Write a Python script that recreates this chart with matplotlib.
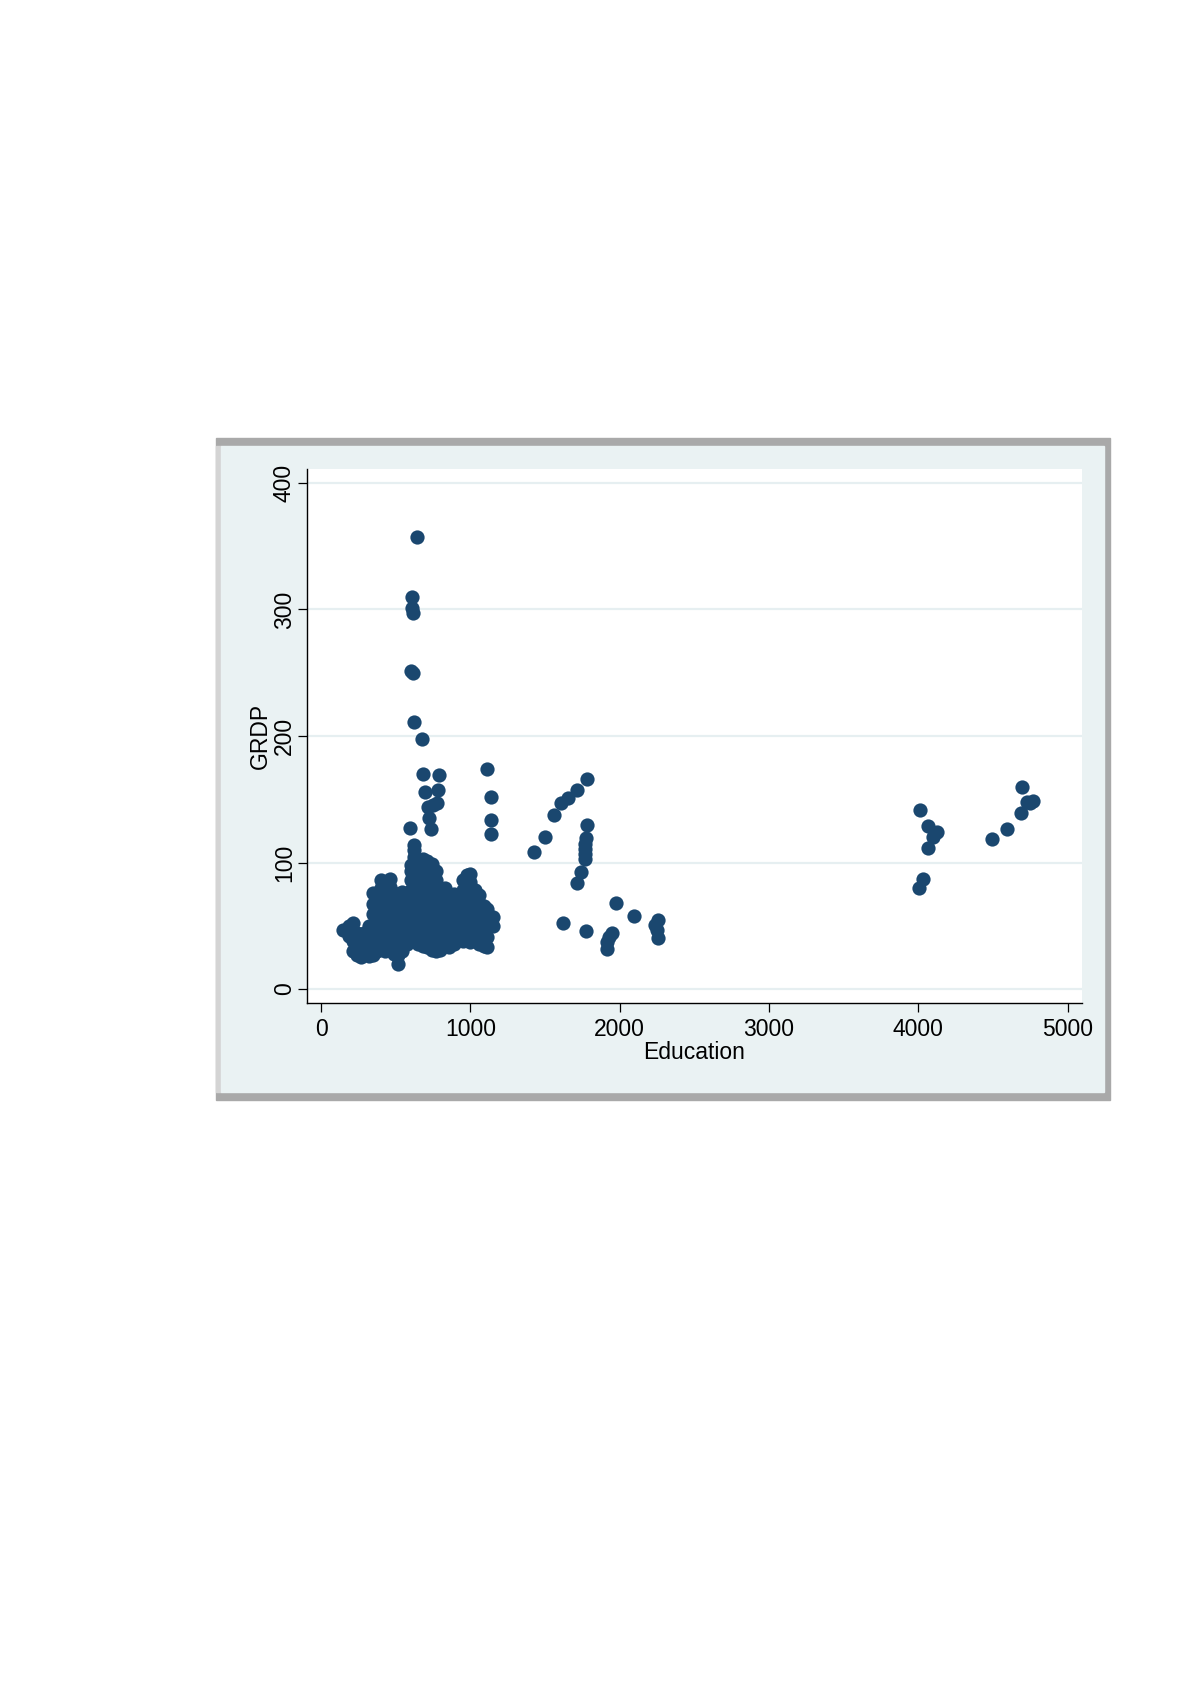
import numpy as np
import matplotlib.pyplot as plt
from matplotlib.patches import Rectangle

plt.rcParams['font.family'] = ['Liberation Sans', 'DejaVu Sans']

# scattered points
edu = [641, 612, 607, 618, 601, 618, 623, 679, 685, 788, 694, 781, 719, 775,
       752, 726, 734, 596, 1110, 1141, 1141, 1141,
       1784, 1717, 1652, 1608, 1561, 1500, 1429, 1779, 1775, 1770, 1766, 1766,
       1766, 1739, 1712, 1976, 2099, 1623, 1775, 2255, 2237, 2248, 2260, 1951,
       1929, 1918, 1918,
       4012, 4068, 4124, 4101, 4063, 4034, 4008, 4492, 4593, 4693, 4687, 4727,
       4771, 4749]
grdp = [357, 310, 301, 297.5, 251, 249.5, 211, 197.6, 170, 169, 155.5, 157.5,
        144, 147, 145.5, 135, 126.6, 127, 173.7, 151.5, 134, 122.3,
        165.8, 157.3, 151, 147.3, 137.8, 120, 108.5, 129.4, 119, 115, 111, 107,
        102.8, 92.5, 83.5, 67.7, 58, 52, 46, 54.5, 50.6, 46.6, 40, 44.5,
        41.4, 37.4, 31.4,
        141.5, 128.9, 124.4, 120.4, 111.7, 86.7, 79.6, 118.6, 126.2, 159.4,
        138.9, 148, 148.6, 146.8]

# dense cluster, read column by column (education value, grdp values)
cluster_edu = [150, 185, 212, 240, 265, 290, 320, 345, 375, 400, 430, 462, 490,
               518, 545, 575, 600, 620, 650, 680, 710, 740, 770, 800, 830, 860,
               890, 920, 950, 975, 1000, 1030, 1060, 1090, 1115, 1150]
cluster_grdp = [
    [47],
    [42, 50],
    [30, 38, 46, 52],
    [27, 35, 44],
    [25, 33, 42],
    [28, 36, 44],
    [26, 34, 42, 50],
    [27, 35, 43, 51, 59, 67, 76],
    [30, 38, 46, 54, 62, 70],
    [32, 40, 48, 56, 64, 72, 80, 86],
    [30, 38, 46, 54, 62, 70, 78],
    [33, 41, 49, 57, 65, 73, 81, 87],
    [28, 36, 44, 52, 60, 68, 76],
    [20, 27, 35, 43, 51, 59, 67],
    [30, 38, 46, 54, 62, 70, 77],
    [36, 44, 52, 60, 68, 75],
    [38, 46, 54, 62, 70, 78, 86, 93, 98],
    [40, 48, 56, 64, 72, 80, 88, 96, 104, 110, 114],
    [36, 44, 52, 60, 68, 76, 84, 92, 100],
    [34, 42, 50, 58, 66, 74, 82, 90, 97, 103],
    [33, 41, 49, 57, 65, 73, 81, 89, 96, 101],
    [31, 39, 47, 55, 63, 71, 79, 87, 95, 99],
    [30, 38, 46, 54, 62, 70, 78, 86, 93],
    [31, 39, 47, 55, 63, 71, 79],
    [34, 42, 50, 58, 66, 74, 80],
    [33, 41, 49, 57, 65, 72],
    [36, 44, 52, 60, 68, 75],
    [40, 48, 56, 64, 70],
    [38, 46, 54, 62, 70, 78, 86],
    [42, 50, 58, 66, 74, 82, 90],
    [37, 45, 53, 61, 69, 77, 85, 91],
    [40, 48, 56, 64, 72, 78],
    [36, 44, 52, 60, 68, 74],
    [34, 42, 50, 58, 66],
    [33, 41, 49, 57, 63],
    [50, 57],
]

x_ticks = [0, 1000, 2000, 3000, 4000, 5000]
y_ticks = [0, 100, 200, 300, 400]

for ex, col in zip(cluster_edu, cluster_grdp):
    edu += [ex] * len(col)
    grdp += col

W, H = 1192, 1685
fig = plt.figure(figsize=(W / 100, H / 100), dpi=100)
fig.patch.set_facecolor('white')

# Stata-like graph region with grey frame (screenshot look)
def px_rect(x0, y0, x1, y1, color):
    fig.patches.append(Rectangle((x0 / W, 1 - y1 / H), (x1 - x0) / W, (y1 - y0) / H,
                                 transform=fig.transFigure, color=color, zorder=-5))

px_rect(216, 438, 1110, 1100, '#A9A9A9')
px_rect(216, 446, 221, 1092, '#D4D4D4')
px_rect(221, 446, 1104, 1092, '#EAF2F3')

ax = fig.add_axes([307 / W, 1 - 1003 / H, (1082 - 307) / W, (1003 - 469) / H])
ax.set_facecolor('white')
ax.scatter(edu, grdp, s=105, color='#1A476F', linewidths=0, zorder=3)

ax.set_xlim(-94, 5097)
ax.set_ylim(-11, 411)
ax.set_xticks(x_ticks)
ax.set_yticks(y_ticks)
ax.grid(axis='y', color='#E6EFF1', linewidth=1.6, zorder=0)
ax.grid(axis='x', visible=False)

for s in ['top', 'right']:
    ax.spines[s].set_visible(False)
for s in ['left', 'bottom']:
    ax.spines[s].set_linewidth(1.0)
    ax.spines[s].set_color('black')

ax.tick_params(axis='both', direction='out', length=6.5, width=0.9, labelsize=16.5)
ax.tick_params(axis='x', pad=4)
ax.tick_params(axis='y', pad=1.5)
plt.setp(ax.get_yticklabels(), rotation=90, va='center')

ax.set_xlabel('Education', fontsize=16.5, labelpad=0)
ax.set_ylabel('GRDP', fontsize=16.5, labelpad=1)

fig.savefig('out.png', dpi=100)
